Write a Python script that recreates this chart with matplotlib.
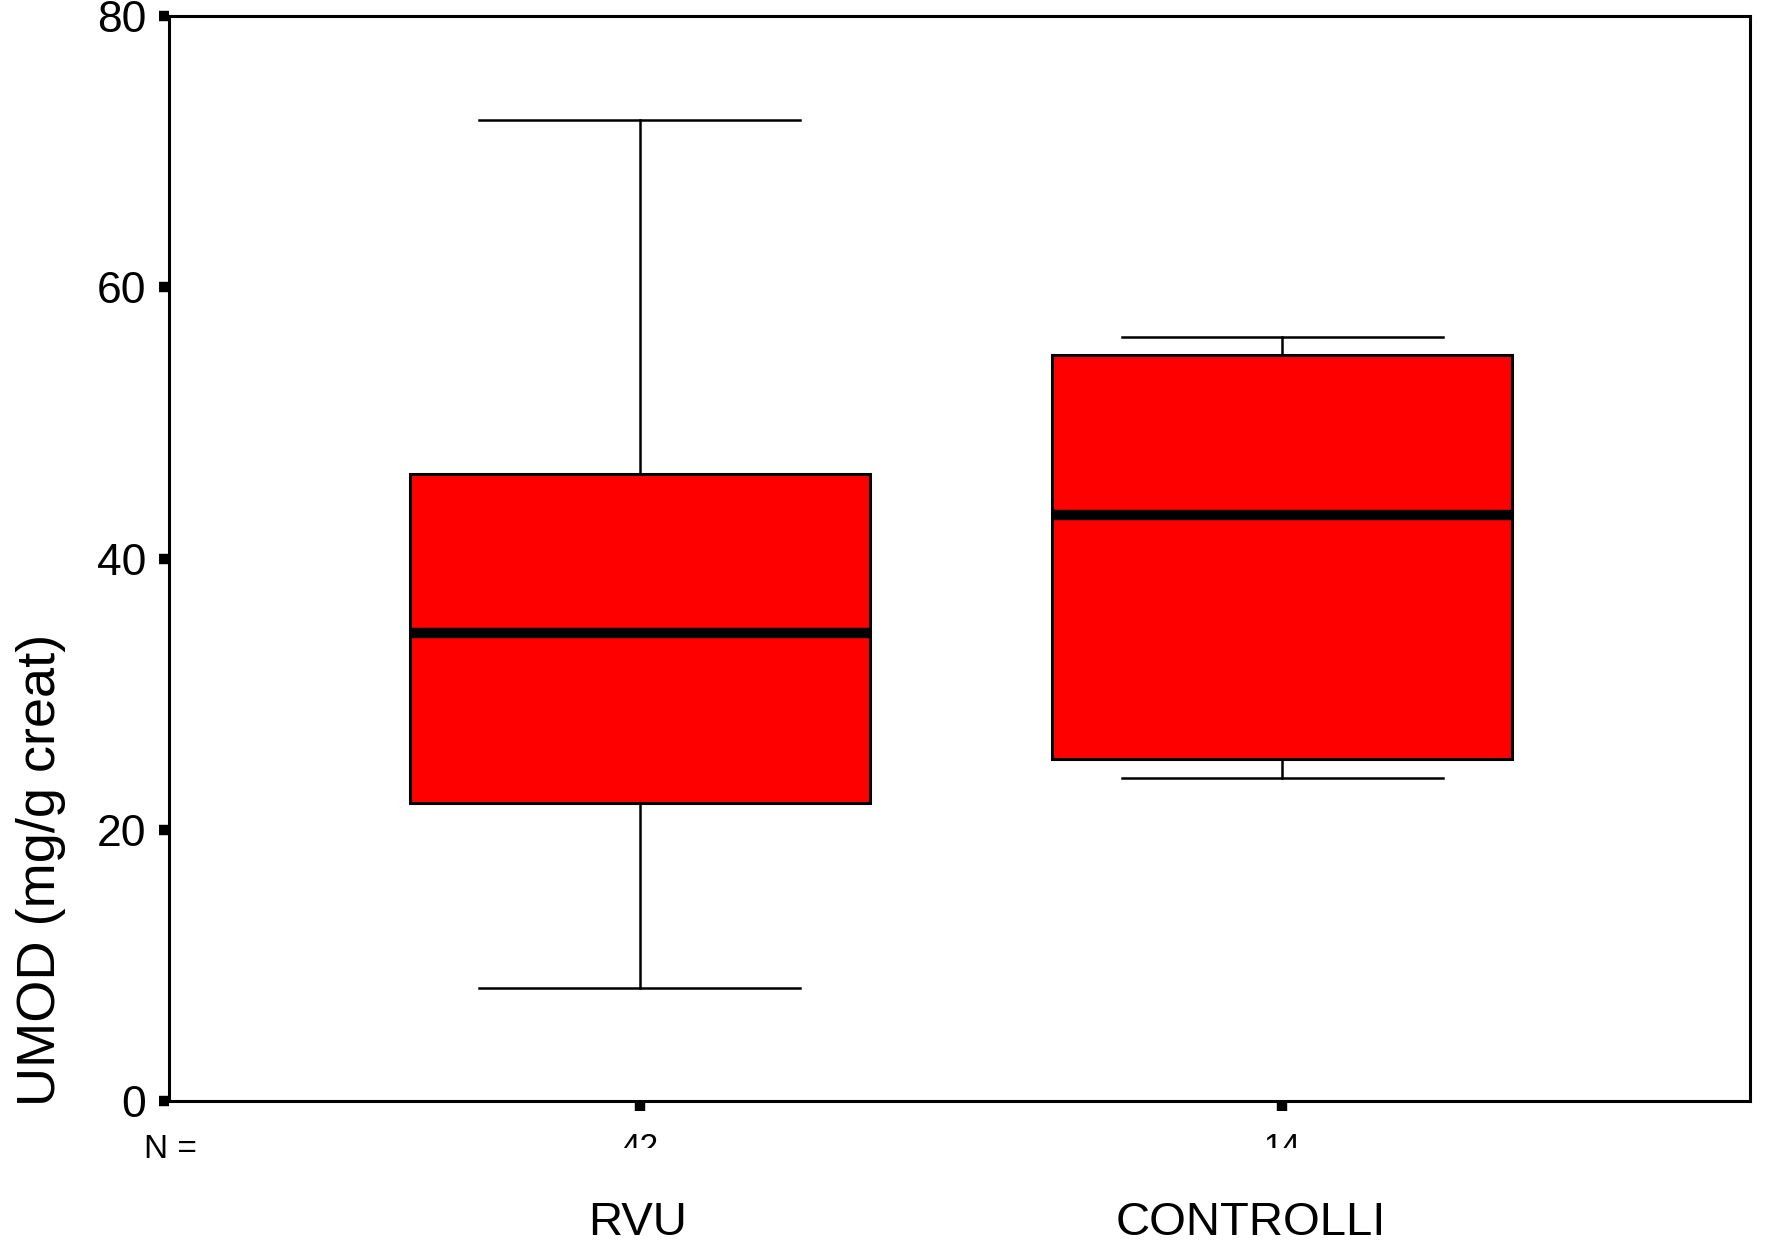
import matplotlib
matplotlib.use("Agg")
import matplotlib.pyplot as plt
from matplotlib.transforms import Bbox, TransformedBbox

plt.rcParams['font.family'] = ['Liberation Sans', 'DejaVu Sans']

# box plot summary values
groups = ["RVU", "CONTROLLI"]
counts = [42, 14]
whisker_low = [8.3, 23.8]
q1 = [22.0, 25.2]
median = [34.5, 43.2]
q3 = [46.2, 55.0]
whisker_high = [72.3, 56.3]

stats = []
for i in range(len(groups)):
    stats.append({
        "label": groups[i],
        "whislo": whisker_low[i],
        "q1": q1[i],
        "med": median[i],
        "q3": q3[i],
        "whishi": whisker_high[i],
        "fliers": [],
    })

fig = plt.figure(figsize=(17.67, 12.53), dpi=100)
ax = fig.add_axes([0.0956, 0.1213, 0.8948, 0.8659])

positions = [1, 2]
ax.bxp(stats, positions=positions, widths=0.716, capwidths=0.5,
       patch_artist=True, showfliers=False,
       boxprops=dict(facecolor="#ff0000", edgecolor="black", linewidth=2.2),
       medianprops=dict(color="black", linewidth=7.5, solid_capstyle="butt"),
       whiskerprops=dict(color="black", linewidth=1.8),
       capprops=dict(color="black", linewidth=1.8))

ax.set_xlim(0.267, 2.728)
ax.set_ylim(0, 80)
ax.set_yticks([0, 20, 40, 60, 80])
ax.set_xticks(positions)
ax.set_xticklabels([])

for s in ax.spines.values():
    s.set_linewidth(2.2)

ax.tick_params(axis="y", direction="out", length=7.5, width=7.5,
               labelsize=32, pad=9)
ax.tick_params(axis="x", direction="out", length=7.5, width=7.5, pad=0)

# y axis title sits low, next to the axis bottom
fig.text(41 / 1767, 1 - 870 / 1253, "UMOD (mg/g creat)", rotation=90,
         ha="center", va="center", fontsize=39)

# N row, cut off at the bottom like in the original
fig.text(144 / 1767, 1 - 1134 / 1253, "N =", ha="left", va="top", fontsize=24)
clip = TransformedBbox(Bbox([[0, 1 - 1148 / 1253], [1, 1]]), fig.transFigure)
for p, n in zip(positions, counts):
    t = ax.text(p, 0, str(n), ha="center", va="top", fontsize=24,
                transform=ax.get_xaxis_transform())
    t.set_position((p, -(1133 - 1101) / (0.8659 * 1253)))
    t.set_clip_box(clip)
    t.set_clip_on(True)

# category names
fig.text(638 / 1767, 1 - 1223 / 1253, groups[0], ha="center", va="center",
         fontsize=34)
fig.text(1251 / 1767, 1 - 1223 / 1253, groups[1], ha="center", va="center",
         fontsize=34)

fig.savefig("out.png", dpi=100)
